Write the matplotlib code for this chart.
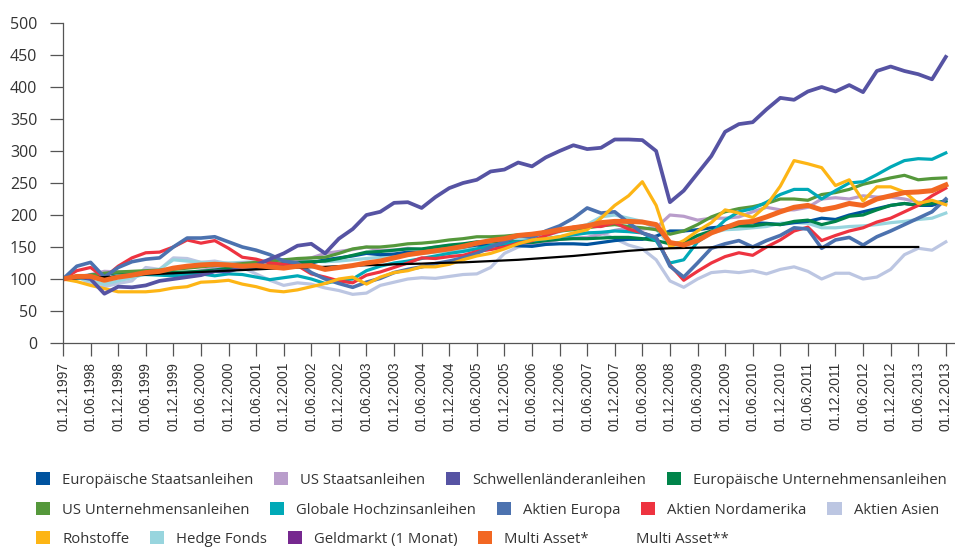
import numpy as np
import matplotlib
import matplotlib.pyplot as plt
from matplotlib.patches import Patch

# quarterly values, Dec 1997 .. Dec 2013 (index 1997-12 = 100)
months = np.arange(0, 193, 3)

euro_staat = [100, 103, 105, 108, 110, 110, 109, 108, 108, 109, 110, 112, 115, 117, 118, 120,
              121, 122, 125, 130, 133, 136, 140, 138, 139, 142, 141, 145, 148, 150, 153, 152,
              153, 152, 151, 154, 155, 155, 154, 157, 160, 162, 162, 167, 175, 175, 177, 180,
              182, 185, 188, 187, 185, 188, 190, 195, 193, 200, 205, 210, 215, 218, 215, 215, 222]
us_staat = [100, 103, 107, 112, 111, 110, 109, 108, 107, 110, 113, 117, 122, 125, 125, 130,
            130, 130, 133, 140, 143, 146, 150, 145, 145, 148, 146, 150, 152, 154, 157, 155,
            155, 155, 155, 158, 162, 164, 165, 170, 176, 180, 178, 180, 200, 198, 192, 195,
            195, 197, 205, 212, 208, 208, 212, 225, 227, 225, 230, 228, 228, 225, 220, 218, 220]
schwellen = [100, 104, 100, 77, 88, 87, 90, 97, 100, 103, 106, 112, 112, 118, 122, 131,
             140, 152, 155, 140, 163, 178, 200, 205, 219, 220, 211, 228, 242, 250, 255, 268,
             271, 282, 276, 290, 300, 309, 303, 305, 318, 318, 317, 300, 220, 238, 265, 292,
             330, 342, 345, 365, 383, 380, 393, 400, 393, 403, 392, 425, 432, 425, 420, 412, 447]
euro_unt = [100, 103, 106, 108, 110, 111, 111, 110, 110, 111, 112, 114, 117, 119, 120, 122,
            124, 126, 127, 128, 132, 137, 142, 143, 145, 147, 147, 150, 153, 155, 158, 158,
            158, 158, 157, 160, 162, 163, 163, 164, 165, 165, 163, 160, 155, 157, 168, 175,
            180, 183, 183, 186, 185, 190, 192, 185, 190, 198, 200, 208, 215, 218, 215, 218, 222]
us_unt = [100, 103, 106, 109, 111, 112, 113, 114, 115, 117, 119, 121, 122, 124, 126, 128,
          130, 132, 133, 134, 140, 147, 150, 150, 152, 155, 156, 158, 161, 163, 166, 166,
          167, 169, 170, 172, 175, 177, 180, 183, 185, 182, 180, 177, 170, 175, 185, 197,
          205, 210, 213, 218, 225, 225, 223, 232, 235, 240, 248, 253, 258, 262, 255, 257, 258]
hochzins = [100, 102, 103, 100, 105, 106, 107, 106, 105, 107, 108, 105, 108, 107, 103, 99,
            102, 105, 100, 93, 98, 100, 113, 120, 125, 128, 132, 136, 140, 143, 147, 152,
            155, 158, 160, 163, 166, 169, 172, 173, 175, 174, 172, 160, 125, 130, 158, 172,
            192, 205, 210, 220, 232, 240, 240, 225, 238, 250, 252, 263, 275, 285, 288, 287, 297]
aktien_eu = [100, 120, 126, 103, 118, 127, 131, 133, 150, 164, 164, 166, 158, 150, 145, 138,
             128, 125, 110, 100, 93, 87, 95, 101, 110, 115, 119, 124, 128, 133, 140, 150,
             158, 168, 165, 175, 183, 195, 211, 203, 205, 188, 172, 165, 120, 103, 125, 148,
             155, 160, 150, 160, 168, 180, 178, 148, 161, 165, 153, 166, 175, 185, 195, 205, 225]
aktien_na = [100, 113, 118, 102, 120, 133, 141, 142, 150, 161, 156, 160, 148, 134, 131, 125,
             123, 121, 108, 103, 97, 94, 106, 111, 118, 125, 133, 132, 135, 137, 143, 146,
             150, 156, 160, 168, 175, 181, 182, 182, 188, 178, 172, 165, 122, 98, 112, 125,
             135, 141, 137, 150, 161, 175, 181, 160, 168, 175, 180, 189, 195, 205, 215, 230, 242]
aktien_as = [100, 105, 92, 88, 93, 97, 118, 115, 133, 132, 126, 128, 124, 118, 108, 98,
             90, 94, 92, 86, 82, 76, 78, 90, 95, 100, 102, 101, 104, 107, 108, 118,
             140, 150, 154, 158, 162, 170, 172, 172, 163, 153, 147, 130, 97, 87, 100, 110,
             112, 110, 113, 108, 115, 119, 112, 100, 109, 109, 100, 103, 115, 138, 148, 145, 158]
rohstoffe = [100, 96, 90, 85, 80, 80, 80, 82, 86, 88, 95, 96, 98, 92, 88, 82,
             80, 83, 88, 93, 100, 103, 92, 103, 110, 113, 119, 119, 123, 130, 136, 140,
             147, 155, 161, 163, 166, 172, 177, 195, 215, 230, 252, 215, 150, 160, 175, 188,
             208, 203, 196, 215, 245, 285, 280, 274, 246, 255, 222, 244, 244, 236, 218, 223, 216]
hedge = [100, 102, 97, 92, 97, 102, 108, 115, 130, 128, 126, 125, 125, 126, 127, 127,
         128, 128, 128, 127, 128, 130, 132, 134, 136, 138, 140, 142, 144, 146, 148, 153,
         158, 162, 163, 168, 174, 180, 185, 197, 200, 195, 190, 178, 152, 152, 163, 172,
         177, 178, 180, 182, 187, 188, 187, 180, 180, 182, 183, 185, 188, 190, 193, 195, 203]
multi_1 = [100, 104, 104, 98, 103, 106, 110, 112, 117, 120, 122, 123, 122, 120, 121, 119,
           117, 120, 121, 115, 118, 121, 125, 128, 133, 138, 141, 144, 147, 151, 156, 160,
           163, 168, 170, 173, 177, 180, 183, 188, 190, 190, 189, 185, 157, 153, 160, 172,
           180, 188, 190, 197, 205, 212, 215, 208, 212, 218, 215, 225, 230, 235, 236, 238, 247]
multi_2 = [100, 101, 102, 103, 104, 105.5, 107, 108, 109, 110, 111, 112, 113, 114, 115, 116,
           117, 118, 118.5, 119, 120, 121, 121.5, 122, 123, 123.5, 124, 125, 125.5, 126, 127, 128,
           129, 130, 131.5, 133, 134.5, 136, 138, 140, 142, 144, 145.5, 147, 148, 148.5, 149, 149.5,
           150, 150, 150, 150, 150, 150, 150, 150, 150, 150, 150, 150, 150, 150, 150, np.nan, np.nan]

names = ['Europäische Staatsanleihen', 'US Staatsanleihen', 'Schwellenländeranleihen',
         'Europäische Unternehmensanleihen', 'US Unternehmensanleihen', 'Globale Hochzinsanleihen',
         'Aktien Europa', 'Aktien Nordamerika', 'Aktien Asien', 'Rohstoffe', 'Hedge Fonds',
         'Geldmarkt (1 Monat)', 'Multi Asset*', 'Multi Asset**']
colors = ['#00539F', '#B99DCB', '#5653A3', '#00844A', '#55983B', '#00A9B7', '#4C72AF',
          '#EE3340', '#BCC6E2', '#FDB515', '#98D5DE', '#76288F', '#F26722', 'none']

tick_labels = []
for y in range(1997, 2014):
    if y > 1997:
        tick_labels.append('01.06.%d' % y)
    tick_labels.append('01.12.%d' % y)

fig = plt.figure(figsize=(9.55, 5.49), dpi=100)
ax = fig.add_axes([63 / 955, 1 - 343 / 549, 1 - 63 / 955, 320 / 549])

series = [(aktien_as, colors[8], 2.3), (hedge, colors[10], 2.3), (us_staat, colors[1], 2.3),
          (euro_staat, colors[0], 2.3), (euro_unt, colors[3], 2.3), (us_unt, colors[4], 2.3),
          (hochzins, colors[5], 2.3), (aktien_na, colors[7], 2.3), (aktien_eu, colors[6], 2.6),
          (rohstoffe, colors[9], 2.3), (schwellen, colors[2], 2.7),
          (multi_2, 'black', 1.6), (multi_1, colors[12], 3.6)]
for vals, c, lw in series:
    ax.plot(months, vals, color=c, lw=lw, solid_joinstyle='round')

ax.set_xlim(0, 194)
ax.set_ylim(0, 500)
ax.set_yticks(range(0, 501, 50))
ax.set_xticks(range(0, 193, 6))
ax.set_xticklabels(tick_labels, rotation=90, family='Liberation Sans', fontsize=10, color='#333333')
for lab in ax.get_yticklabels():
    lab.set_family('Open Sans')
    lab.set_fontsize(11.5)
    lab.set_color('#333333')

for s in ['top', 'right']:
    ax.spines[s].set_visible(False)
for s in ['left', 'bottom']:
    ax.spines[s].set_color('#555555')
    ax.spines[s].set_linewidth(0.9)
ax.tick_params(axis='both', direction='out', length=9.5, width=0.9, color='#555555')
ax.tick_params(axis='y', pad=9)
ax.tick_params(axis='x', pad=4)

rows = [[0, 1, 2, 3], [4, 5, 6, 7, 8], [9, 10, 11, 12, 13]]
row_y = [480, 510, 539]
for r, yy in zip(rows, row_y):
    handles = [Patch(facecolor=colors[i], edgecolor='none') for i in r]
    leg = fig.legend(handles, [names[i] for i in r], loc='center left',
                     bbox_to_anchor=(36 / 955, 1 - yy / 549), ncol=len(r), frameon=False,
                     borderpad=0, borderaxespad=0, handlelength=0.95, handleheight=0.95,
                     handletextpad=0.8, columnspacing=1.4,
                     prop={'family': 'Open Sans', 'size': 10.7})
    for t in leg.get_texts():
        t.set_color('#333333')

fig.savefig('out.png', dpi=100)
